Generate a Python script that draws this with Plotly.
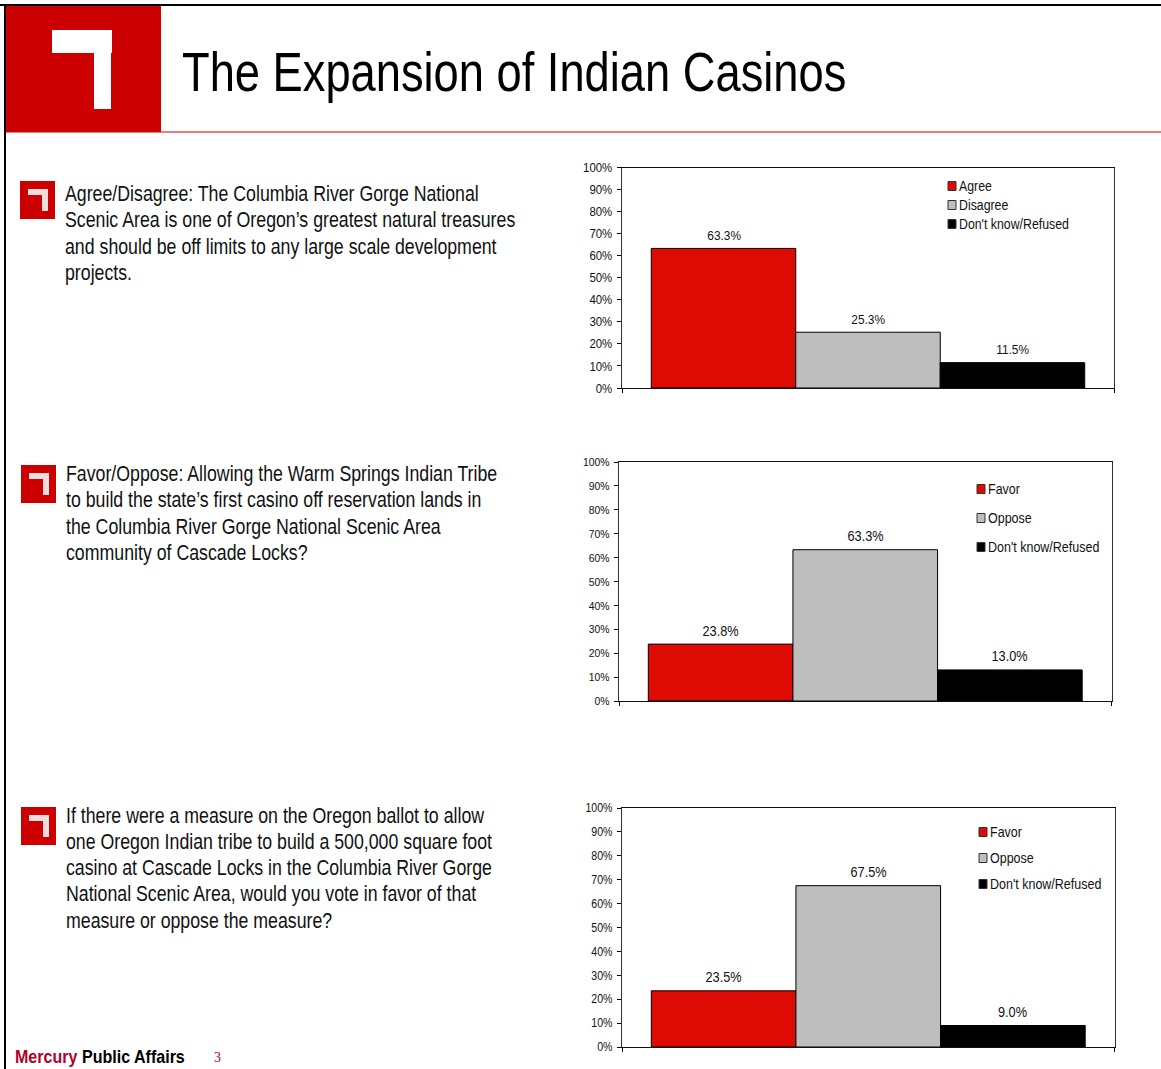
import plotly.graph_objects as go

W, H = 1161, 1069
SANS = "Liberation Sans, Arial, sans-serif"

TITLE = "The Expansion of Indian Casinos"
LABELS_1 = ["Agree", "Disagree", "Don't know/Refused"]
VALUES_1 = [63.3, 25.3, 11.5]
LABELS_2 = ["Favor", "Oppose", "Don't know/Refused"]
VALUES_2 = [23.8, 63.3, 13.0]
LABELS_3 = ["Favor", "Oppose", "Don't know/Refused"]
VALUES_3 = [23.5, 67.5, 9.0]
Y_TICKS = [0, 10, 20, 30, 40, 50, 60, 70, 80, 90, 100]
Y_TICK_LABELS = ["0%", "10%", "20%", "30%", "40%", "50%", "60%", "70%", "80%", "90%", "100%"]
QUESTION_1 = ["Agree/Disagree: The Columbia River Gorge National",
              "Scenic Area is one of Oregon’s greatest natural treasures",
              "and should be off limits to any large scale development",
              "projects."]
QUESTION_2 = ["Favor/Oppose: Allowing the Warm Springs Indian Tribe",
              "to build the state’s first casino off reservation lands in",
              "the Columbia River Gorge National Scenic Area",
              "community of Cascade Locks?"]
QUESTION_3 = ["If there were a measure on the Oregon ballot to allow",
              "one Oregon Indian tribe to build a 500,000 square foot",
              "casino at Cascade Locks in the Columbia River Gorge",
              "National Scenic Area, would you vote in favor of that",
              "measure or oppose the measure?"]
COLORS = ["#DE0A04", "#BEBEBE", "#000000"]
BARGAP = 0.119


def px(x):
    return x / W


def py(y):
    return 1 - y / H


shapes, annotations = [], []


def rect(x0, y0, x1, y1, fill, line=None, lw=0):
    shapes.append(dict(type="rect", xref="paper", yref="paper", layer="below",
                       x0=px(x0), x1=px(x1), y0=py(y1), y1=py(y0), fillcolor=fill,
                       line=dict(color=line or fill, width=lw)))


def text(x, y, s, size, color="#111111", family=SANS):
    annotations.append(dict(xref="paper", yref="paper", x=px(x), y=py(y), text=s, showarrow=False,
                            xanchor="left", yanchor="middle", align="left", borderpad=0, borderwidth=0,
                            font=dict(family=family, size=size, color=color)))


def icon(x, y):
    rect(x, y, x + 35, y + 38, "#CC0000")
    rect(x + 8, y + 8, x + 28, y + 14, "#F2DCDC")
    rect(x + 22, y + 14, x + 28, y + 30, "#F2DCDC")


# page furniture
rect(0, 4, W, 6, "#000000")
rect(4, 4, 6, H, "#000000")
rect(6, 6, 161, 132.5, "#CC0000")
rect(161, 131.5, W, 132.5, "#E00000")
rect(52, 30, 112, 53, "#FFFFFF")
rect(94, 53, 111, 109, "#FFFFFF")
text(182, 72, TITLE, 55, "#000000")

for ix, iy, tx, ys, lines in [
    (20, 181, 64.5, [194, 220, 247, 273], QUESTION_1),
    (21, 465, 66, [474, 500, 527, 553], QUESTION_2),
    (21, 807, 66, [816, 842, 868, 894, 921], QUESTION_3),
]:
    icon(ix, iy)
    for y, s in zip(ys, lines):
        text(tx, y, s, 21.5)

text(15, 1056, "<b>Mercury</b>", 18.5, "#B0012B")
text(82, 1056, "<b>Public Affairs</b>", 18.5, "#000000")
text(214, 1057, "3", 14, "#B0012B", "Liberation Serif, serif")

fig = go.Figure()
panels = [
    (LABELS_1, VALUES_1, (622, 1114, 167.5, 388), "", 13, 13.5, 13, (948, [186, 205, 224], 14)),
    (LABELS_2, VALUES_2, (619, 1111.5, 462, 701), "2", 11.8, 14.5, 13.5, (977, [489, 518, 547], 14.2)),
    (LABELS_3, VALUES_3, (622, 1114.5, 808, 1047), "3", 12, 14.5, 13.5, (979, [832, 858, 884], 14.2)),
]
layout = {}
for labels, values, (x0, x1, y0, y1), sfx, tick_sz, lab_sz, lab_up, (lx, lys, leg_sz) in panels:
    for i, (name, val, col) in enumerate(zip(labels, values, COLORS)):
        fig.add_trace(go.Bar(x=[0], y=[val], name=name, xaxis="x" + sfx, yaxis="y" + sfx,
                             marker=dict(color=col, line=dict(color="#000000", width=1)),
                             showlegend=False, hoverinfo="skip"))
        annotations.append(dict(xref="x" + sfx, yref="y" + sfx, x=(i - 1) * (1 - BARGAP) / 3, y=val,
                                text=f"{val:.1f}%", showarrow=False, xanchor="center", yanchor="middle",
                                yshift=lab_up, borderpad=0,
                                font=dict(family=SANS, size=lab_sz, color="#111111")))
    layout["xaxis" + sfx] = dict(domain=[px(x0), px(x1)], range=[-0.5, 0.5], anchor="y" + sfx,
                                 tickvals=[-0.5, 0.5], ticktext=["", ""], ticks="outside", ticklen=4,
                                 tickcolor="#000000", showgrid=False, zeroline=False,
                                 showline=True, linecolor="#111111", linewidth=1, mirror=True)
    layout["yaxis" + sfx] = dict(domain=[py(y1), py(y0)], range=[0, 100], anchor="x" + sfx,
                                 tickvals=Y_TICKS, ticktext=Y_TICK_LABELS, ticks="outside",
                                 ticklen=4, ticklabelstandoff=2, tickcolor="#000000", showgrid=False,
                                 zeroline=False, showline=True, linecolor="#333333", linewidth=1.2, mirror=True,
                                 tickfont=dict(family=SANS, size=tick_sz, color="#111111"))
    for name, col, ly in zip(labels, COLORS, lys):
        rect(lx, ly - 4.5, lx + 8, ly + 4.5, col, "#333333", 1)
        text(lx + 11, ly, name, leg_sz)

fig.update_layout(width=W, height=H, autosize=False,
                  margin=dict(l=0, r=0, t=0, b=0, pad=0, autoexpand=False),
                  barmode="group", bargap=BARGAP, bargroupgap=0, paper_bgcolor="#FFFFFF",
                  plot_bgcolor="rgba(0,0,0,0)", showlegend=False, shapes=shapes,
                  annotations=annotations, **layout)

# The installed sans has no narrow cut: condense each real text node to the reference's set width.
SQUEEZE = """
document.body.style.margin='0';
document.querySelectorAll('svg text').forEach(function(t){
  var s=parseFloat(t.style.fontSize)||12, f=0.88;
  if((t.style.fontFamily||'').indexOf('Serif')>=0) return;
  if(s>=50) f=0.823; else if(s>=20) f=0.825; else if(s>=18) f=0.867;
  var n=t.getComputedTextLength()*f;
  t.setAttribute('textLength', n);
  t.setAttribute('lengthAdjust','spacingAndGlyphs');
  var g=t.parentNode, r=g&&g.querySelector&&g.querySelector('rect.bg');
  if(r && t.getAttribute('text-anchor')==='start') r.setAttribute('width', n);
});
"""
fig.write_html("out.html", config={"displayModeBar": False}, post_script=SQUEEZE)
